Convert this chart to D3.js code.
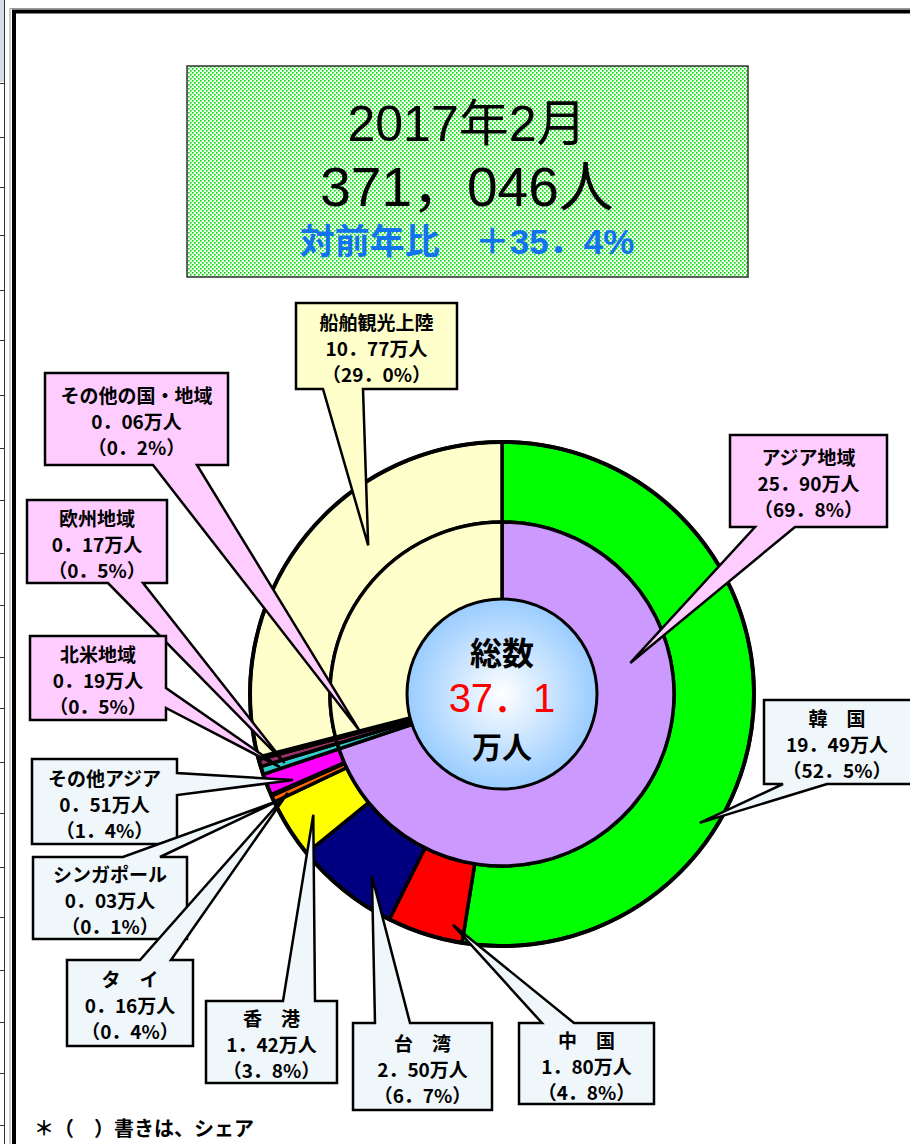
<!DOCTYPE html>
<html>
<head>
<meta charset="utf-8">
<script src="https://cdn.jsdelivr.net/npm/d3@7"></script>
<style>
  html, body { margin: 0; padding: 0; background: #fff; }
  svg { display: block; }
</style>
</head>
<body>
<div id="chart"></div>
<script>
// 外側リング（国・地域別）
const outerNames = ["韓　国", "中　国", "台　湾", "香　港", "タ　イ", "シンガポール", "その他アジア", "北米地域", "欧州地域", "その他の国・地域", "船舶観光上陸"];
const outerValues = [19.49, 1.80, 2.50, 1.42, 0.16, 0.03, 0.51, 0.19, 0.17, 0.06, 10.77];
const outerShares = [52.5, 4.8, 6.7, 3.8, 0.4, 0.1, 1.4, 0.5, 0.5, 0.2, 29.0];

// 内側リング（地域別）
const innerNames = ["アジア地域", "北米地域", "欧州地域", "その他の国・地域", "船舶観光上陸"];
const innerValues = [25.90, 0.19, 0.17, 0.06, 10.77];
const innerShares = [69.8, 0.5, 0.5, 0.2, 29.0];

const titleLines = ["2017年2月", "371，046人", "対前年比　＋35．4%"];
const totalLabel = ["総数", "37．1", "万人"];

function drawChart() {
    d3.select("#chart").selectAll("*").remove();

    const W = 910, H = 1144;
    const cx = 502, cy = 694;
    const rCenter = 95, rInner = 172, rOuter = 252;

    const svg = d3.select("#chart").append("svg")
        .attr("width", W).attr("height", H);

    const defs = svg.append("defs");
    const pat = defs.append("pattern").attr("id", "dots")
        .attr("width", 4).attr("height", 4).attr("patternUnits", "userSpaceOnUse");
    pat.append("rect").attr("width", 4).attr("height", 4).attr("fill", "#f4fff4");
    pat.append("rect").attr("x", 0).attr("y", 0).attr("width", 1.6).attr("height", 1.6).attr("fill", "#00dd00");
    pat.append("rect").attr("x", 2).attr("y", 2).attr("width", 1.6).attr("height", 1.6).attr("fill", "#00dd00");

    const grad = defs.append("radialGradient").attr("id", "ctr");
    grad.append("stop").attr("offset", "0%").attr("stop-color", "#ffffff");
    grad.append("stop").attr("offset", "100%").attr("stop-color", "#99ccff");

    // 左端の表の切れ端と枠線
    const leftRows = [83, 137, 187, 235, 290, 340, 395, 448, 500, 553, 605, 657, 708, 762, 813, 867, 917, 970, 1022, 1073, 1125];
    svg.append("rect").attr("x", 0).attr("y", 0).attr("width", 4).attr("height", 82).attr("fill", "#d5dde8");
    svg.append("line").attr("x1", 4.5).attr("x2", 4.5).attr("y1", 0).attr("y2", H)
        .attr("stroke", "#333").attr("stroke-width", 1);
    svg.selectAll(".lrow").data(leftRows).enter().append("line")
        .attr("class", "lrow")
        .attr("x1", 0).attr("x2", 4).attr("y1", d => d + 0.5).attr("y2", d => d + 0.5)
        .attr("stroke", "#333").attr("stroke-width", 1);
    svg.append("path").attr("d", `M14,${H} L14,11.5 L${W},11.5`)
        .attr("fill", "none").attr("stroke", "#000").attr("stroke-width", 4);
    svg.append("path").attr("d", `M10,${H} L10,8.5 L${W},8.5`)
        .attr("fill", "none").attr("stroke", "#999").attr("stroke-width", 1);

    // タイトル
    svg.append("rect").attr("x", 187).attr("y", 66).attr("width", 561).attr("height", 211)
        .attr("fill", "url(#dots)").attr("stroke", "#333").attr("stroke-width", 1.5);
    svg.append("text").attr("x", 467).attr("y", 141).attr("text-anchor", "middle")
        .style("font-family", "'Liberation Sans', 'Noto Sans CJK JP', sans-serif")
        .style("font-size", "50px").text(titleLines[0]);
    svg.append("text").attr("x", 467).attr("y", 206).attr("text-anchor", "middle")
        .style("font-family", "'Liberation Sans', 'Noto Sans CJK JP', sans-serif")
        .style("font-size", "55px").text(titleLines[1]);
    svg.append("text").attr("x", 467).attr("y", 254).attr("text-anchor", "middle")
        .style("font-family", "'Liberation Sans', 'Noto Sans CJK JP', sans-serif")
        .style("font-size", "35px").style("font-weight", "bold")
        .attr("fill", "#1273f0").text(titleLines[2]);

    // 色
    const color = d3.scaleOrdinal()
        .domain(["韓　国", "中　国", "台　湾", "香　港", "タ　イ", "シンガポール", "その他アジア",
                 "北米地域", "欧州地域", "その他の国・地域", "船舶観光上陸", "アジア地域"])
        .range(["#00ff00", "#ff0000", "#000080", "#ffff00", "#ff6600", "#333333", "#ff00ff",
                "#33cccc", "#993366", "#000000", "#ffffcc", "#cc99ff"]);

    const pie = d3.pie().sort(null).value(d => d.value).startAngle(0).endAngle(2 * Math.PI);

    const outerData = outerNames.map((n, i) => ({ name: n, value: outerValues[i], share: outerShares[i] }));
    const innerData = innerNames.map((n, i) => ({ name: n, value: innerValues[i], share: innerShares[i] }));

    const arcOuter = d3.arc().innerRadius(rInner).outerRadius(rOuter);
    const arcInner = d3.arc().innerRadius(rCenter - 5).outerRadius(rInner);

    const g = svg.append("g").attr("transform", `translate(${cx},${cy})`);

    g.selectAll(".outer")
        .data(pie(outerData))
        .enter().append("path")
        .attr("class", "outer")
        .attr("d", arcOuter)
        .attr("fill", d => color(d.data.name))
        .attr("stroke", "#000").attr("stroke-width", 3.5).attr("stroke-linejoin", "round");

    g.selectAll(".inner")
        .data(pie(innerData))
        .enter().append("path")
        .attr("class", "inner")
        .attr("d", arcInner)
        .attr("fill", d => color(d.data.name))
        .attr("stroke", "#000").attr("stroke-width", 3.5).attr("stroke-linejoin", "round");

    g.append("circle").attr("r", rOuter).attr("fill", "none")
        .attr("stroke", "#000").attr("stroke-width", 4);

    // 中心
    g.append("circle").attr("r", rCenter).attr("fill", "url(#ctr)")
        .attr("stroke", "#000").attr("stroke-width", 3);
    g.append("text").attr("y", -29).attr("text-anchor", "middle")
        .style("font-family", "'Noto Sans CJK JP', sans-serif")
        .style("font-size", "32px").style("font-weight", "bold").text(totalLabel[0]);
    g.append("text").attr("y", 18).attr("text-anchor", "middle")
        .style("font-family", "'Liberation Sans', 'Noto Sans CJK JP', sans-serif")
        .style("font-size", "40px").attr("fill", "#ff0000").text(totalLabel[1]);
    g.append("text").attr("y", 64).attr("text-anchor", "middle")
        .style("font-family", "'Noto Sans CJK JP', sans-serif")
        .style("font-size", "30px").style("font-weight", "bold").text(totalLabel[2]);

    // 吹き出し配置
    const pink = "#ffccff", cream = "#ffffcc", pale = "#eff7fa";
    const callouts = [
        { ring: "outer", name: "船舶観光上陸", x: 296, y: 303, w: 161, h: 86, fill: cream, side: "bottom", a: 323, b: 363, ang: 318, r: 200 },
        { ring: "outer", name: "その他の国・地域", x: 45, y: 373, w: 183, h: 92, fill: pink, side: "bottom", a: 153, b: 197, ang: 255.4, r: 147 },
        { ring: "outer", name: "欧州地域", x: 27, y: 500, w: 140, h: 83, fill: pink, side: "bottom", a: 108, b: 143, ang: 252.4, r: 228 },
        { ring: "outer", name: "北米地域", x: 30, y: 636, w: 136, h: 84, fill: pink, side: "right", a: 688, b: 708, ang: 251.8, r: 234 },
        { ring: "inner", name: "アジア地域", x: 730, y: 435, w: 157, h: 92, fill: pink, side: "bottom", a: 755, b: 795, ang: 76.4, r: 132 },
        { ring: "outer", name: "韓　国", x: 764, y: 700, w: 152, h: 84, fill: pale, side: "bottom", a: 783, b: 827, ang: 123.1, r: 236 },
        { ring: "outer", name: "その他アジア", x: 32, y: 759, w: 145, h: 85, fill: pale, side: "right", a: 773, b: 795, ang: 247.6, r: 226 },
        { ring: "outer", name: "シンガポール", x: 33, y: 857, w: 154, h: 82, fill: pale, side: "top", a: 123, b: 160, ang: 244.5, r: 248 },
        { ring: "outer", name: "タ　イ", x: 67, y: 960, w: 126, h: 86, fill: pale, side: "top", a: 140, b: 171, ang: 245.2, r: 236 },
        { ring: "outer", name: "香　港", x: 206, y: 1001, w: 131, h: 82, fill: pale, side: "top", a: 283, b: 315, ang: 237.4, r: 224 },
        { ring: "outer", name: "台　湾", x: 353, y: 1023, w: 139, h: 87, fill: pale, side: "top", a: 375, b: 410, ang: 215.5, r: 224 },
        { ring: "outer", name: "中　国", x: 519, y: 1023, w: 135, h: 81, fill: pale, side: "top", a: 542, b: 574, ang: 192, r: 236 }
    ];

    const fmtV = v => d3.format(".2f")(v).replace(".", "．");
    const fmtS = v => d3.format(".1f")(v).replace(".", "．");

    function tipPoint(c) {
        const t = c.ang * Math.PI / 180;
        return [cx + c.r * Math.sin(t), cy - c.r * Math.cos(t)];
    }

    function calloutPath(c) {
        const { x, y, w, h, a, b } = c;
        const tp = tipPoint(c);
        let pts;
        if (c.side === "top") {
            pts = [[x, y], [a, y], tp, [b, y], [x + w, y], [x + w, y + h], [x, y + h]];
        } else if (c.side === "bottom") {
            pts = [[x, y], [x + w, y], [x + w, y + h], [b, y + h], tp, [a, y + h], [x, y + h]];
        } else if (c.side === "right") {
            pts = [[x, y], [x + w, y], [x + w, a], tp, [x + w, b], [x + w, y + h], [x, y + h]];
        } else {
            pts = [[x, y], [x + w, y], [x + w, y + h], [x, y + h], [x, b], tp, [x, a]];
        }
        return d3.line()(pts) + "Z";
    }

    const lookup = {};
    outerData.forEach(d => lookup["outer|" + d.name] = d);
    innerData.forEach(d => lookup["inner|" + d.name] = d);

    const cg = svg.selectAll(".callout")
        .data(callouts)
        .enter().append("g")
        .attr("class", "callout");

    cg.append("path")
        .attr("d", calloutPath)
        .attr("fill", d => d.fill)
        .attr("stroke", "#000").attr("stroke-width", 2.5)
        .attr("stroke-linejoin", "miter");

    cg.each(function(c) {
        const d = lookup[c.ring + "|" + c.name];
        const lines = [c.name, fmtV(d.value) + "万人", "（" + fmtS(d.share) + "%）"];
        const t = d3.select(this).append("text")
            .attr("text-anchor", "middle")
            .style("font-family", "'Noto Sans CJK JP', sans-serif")
            .style("font-size", "19px").style("font-weight", "bold");
        lines.forEach((s, i) => {
            t.append("tspan")
                .attr("x", c.x + c.w / 2 - (c.name === "韓　国" ? 3 : 0))
                .attr("y", c.y + c.h / 2 - 16 + i * 26)
                .text(s);
        });
    });

    // 注記
    svg.append("text").attr("x", 34).attr("y", 1136)
        .style("font-family", "'Noto Sans CJK JP', sans-serif")
        .style("font-size", "20px").style("font-weight", "bold")
        .text("＊（　）書きは、シェア");
}

drawChart();
</script>
</body>
</html>
